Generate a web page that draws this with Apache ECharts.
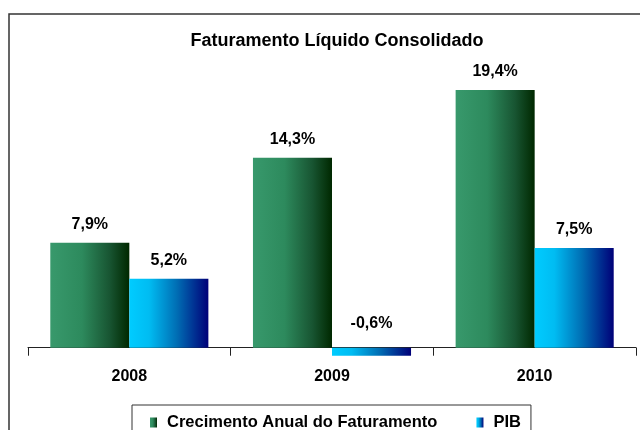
<!DOCTYPE html>
<html>
	<head>
		<meta charset="utf-8">
		<title>Faturamento Líquido Consolidado</title>
		<script src="https://cdn.jsdelivr.net/npm/echarts@6/dist/echarts.min.js"></script>
		<style>
			html, body { margin: 0; padding: 0; background: #fff; }
			.chart { width: 640px; height: 430px; }
		</style>
	</head>
	<body>
		<div class="chart"></div>
		<script>
			var anos = ['2008', '2009', '2010'];
			var crescimento = [7.9, 14.3, 19.4];
			var pib = [5.2, -0.6, 7.5];

			var chart = echarts.init(document.querySelector('.chart'));

			// degrade horizontal das barras, igual ao Excel
			var verde = new echarts.graphic.LinearGradient(0, 0, 1, 0, [
				{ offset: 0, color: '#38996c' },
				{ offset: 0.4, color: '#2d8a5d' },
				{ offset: 0.75, color: '#185532' },
				{ offset: 1, color: '#002800' }
			]);
			var azul = new echarts.graphic.LinearGradient(0, 0, 1, 0, [
				{ offset: 0, color: '#00ccff' },
				{ offset: 0.25, color: '#00bcf2' },
				{ offset: 0.6, color: '#006eb4' },
				{ offset: 1, color: '#000078' }
			]);

			function fmt(p) {
				return p.value.toFixed(1).replace('.', ',') + '%';
			}

			var rotulo = {
				show: true,
				position: 'top',
				distance: 10,
				color: '#000',
				fontFamily: 'Liberation Sans',
				fontWeight: 'bold',
				fontSize: 16,
				formatter: fmt
			};

			chart.setOption({
				animation: false,
				backgroundColor: '#fff',
				textStyle: { fontFamily: 'Liberation Sans' },
				graphic: [{
					type: 'rect',
					shape: { x: 9, y: 14, width: 700, height: 500 },
					style: { fill: 'none', stroke: '#333', lineWidth: 1.5 },
					silent: true
				}],
				title: {
					text: 'Faturamento Líquido Consolidado',
					left: 332,
					textAlign: 'center',
					top: 27,
					textStyle: { fontSize: 18, fontWeight: 'bold', color: '#000', fontFamily: 'Liberation Sans' }
				},
				legend: {
					left: 132,
					top: 405,
					padding: [9, 10, 9, 18],
					itemGap: 39,
					itemWidth: 7,
					itemHeight: 10,
					icon: 'rect',
					borderColor: '#333',
					borderWidth: 1,
					textStyle: { fontSize: 16.5, fontWeight: 'bold', color: '#000', padding: [0, 0, 0, 5], fontFamily: 'Liberation Sans' },
					data: ['Crecimento Anual do Faturamento', 'PIB']
				},
				grid: { left: 28, right: 4, top: 82, bottom: 69 },
				xAxis: {
					type: 'category',
					data: anos,
					axisLine: { onZero: true, lineStyle: { color: '#222', width: 1 } },
					axisTick: { show: true, length: 8, lineStyle: { color: '#222' } },
					axisLabel: { margin: 8, fontSize: 16, fontWeight: 'bold', color: '#000' }
				},
				yAxis: {
					type: 'value',
					min: -1,
					max: 20,
					show: false,
					splitLine: { show: false }
				},
				series: [
					{
						name: 'Crecimento Anual do Faturamento',
						type: 'bar',
						data: crescimento,
						barGap: '0%',
						barCategoryGap: '22%',
						itemStyle: { color: verde },
						label: rotulo
					},
					{
						name: 'PIB',
						type: 'bar',
						data: pib.map(function (v) {
							if (v < 0) return { value: v, label: { distance: 16 } };
							return v;
						}),
						barGap: '0%',
						barCategoryGap: '22%',
						itemStyle: { color: azul },
						label: rotulo
					}
				]
			});
		</script>
	</body>
</html>
